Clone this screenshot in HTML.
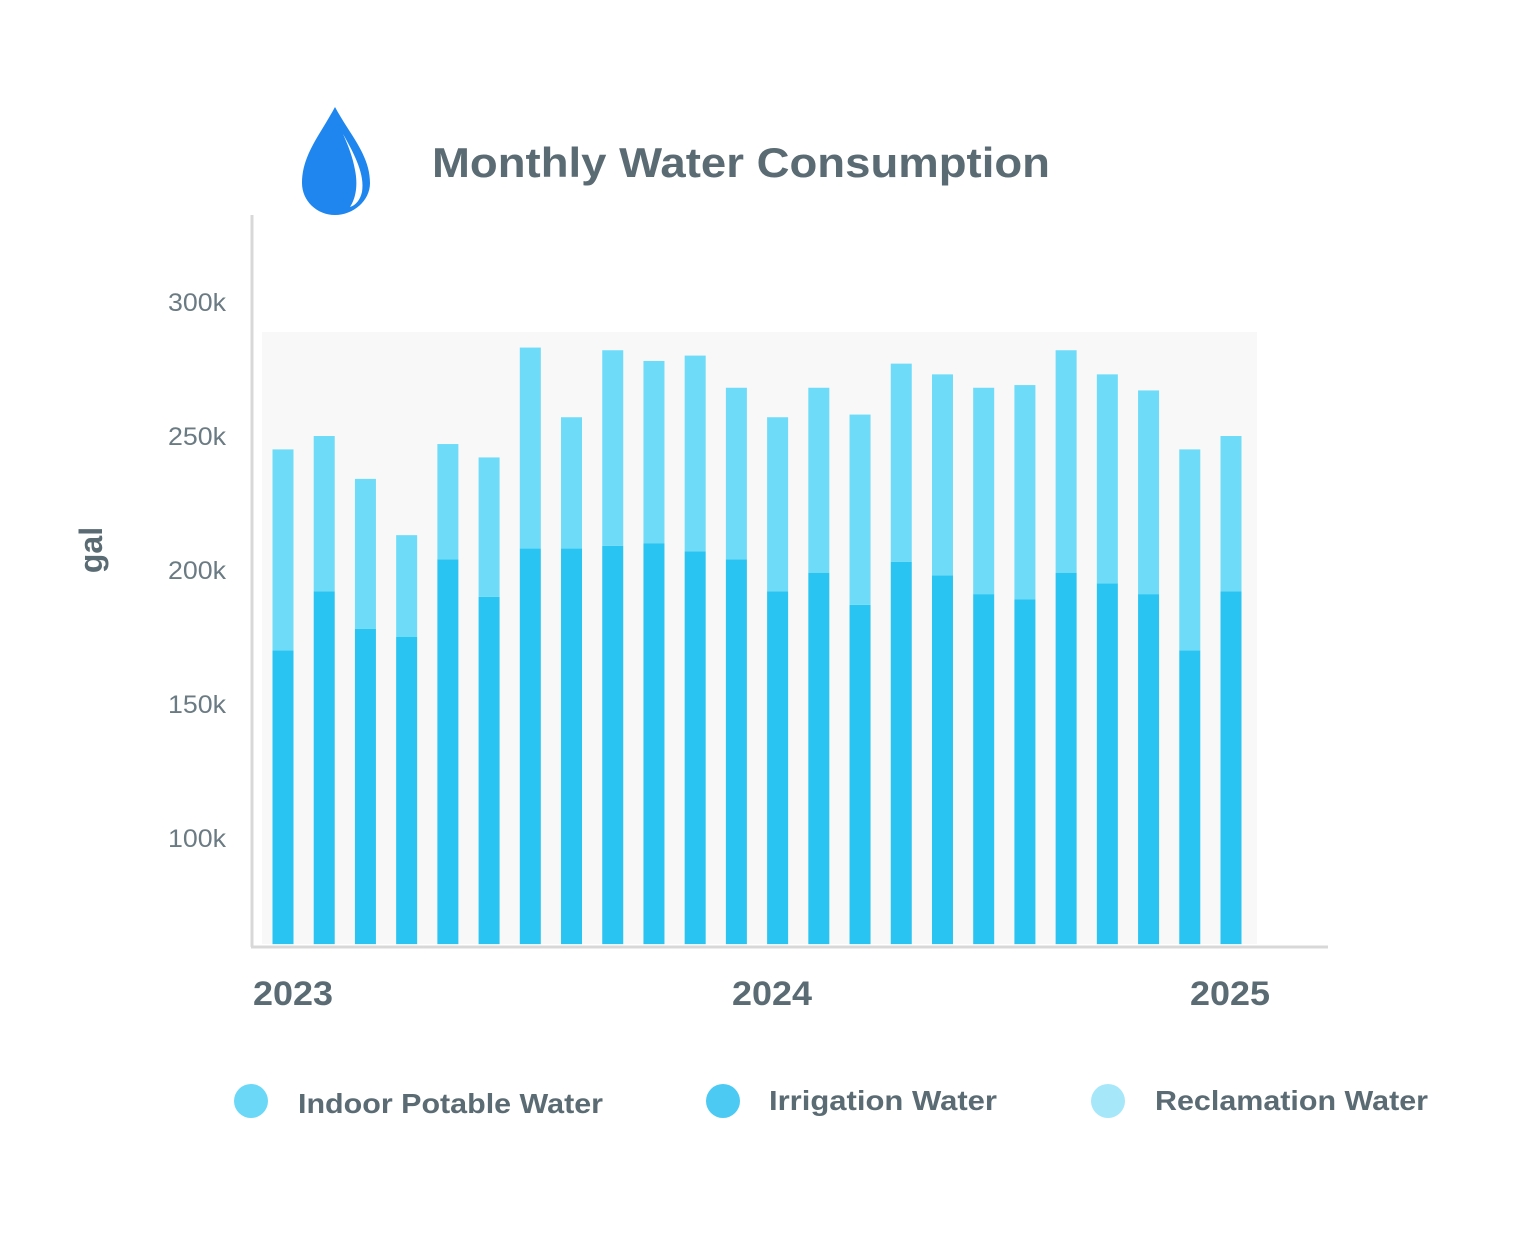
<!DOCTYPE html>
<html><head><meta charset="utf-8"><style>
body{margin:0;background:#fff;}
svg{display:block;font-family:"Liberation Sans",sans-serif;}
</style></head><body>
<svg id="chart" width="1521" height="1260" viewBox="0 0 1521 1260">
<g>
<path d="M335 107 C320 135 302 155 302 183 C302 201 317 215 335 215 C353 215 370 201 370 183 C370 155 350 135 335 107 Z" fill="#1e86ee"/>
<path d="M343 134 C355 155 365 175 362 192 C360 200 356 205 350 207 C356 198 358 185 355 170 C353 158 348 145 343 134 Z" fill="#fff"/>
</g>
<text x="432" y="177" font-size="42" font-weight="bold" fill="#5a6b73" textLength="618" lengthAdjust="spacingAndGlyphs">Monthly Water Consumption</text>
<rect x="262" y="332" width="995" height="612" fill="#f8f8f8"/>
<g id="bars"></g>
<g id="yticks"></g>
<line x1="252" y1="215" x2="252" y2="947" stroke="#d8d8d8" stroke-width="3"/>
<line x1="251" y1="947" x2="1328" y2="947" stroke="#d8d8d8" stroke-width="3"/>
<text transform="translate(102,550) rotate(-90)" text-anchor="middle" font-size="32" font-weight="bold" fill="#5a6b73">gal</text>
<g id="xlabels"></g>
<g>
<g><circle cx="251" cy="1101" r="17" fill="#6bd8f8"/><text x="298" y="1113" font-size="28" font-weight="bold" fill="#5a6b73" textLength="305" lengthAdjust="spacingAndGlyphs">Indoor Potable Water</text></g>
<g><circle cx="723" cy="1101" r="17" fill="#4ccaf3"/><text x="769" y="1110" font-size="28" font-weight="bold" fill="#5a6b73" textLength="228" lengthAdjust="spacingAndGlyphs">Irrigation Water</text></g>
<g><circle cx="1108" cy="1101" r="17" fill="#a6e7fa"/><text x="1155" y="1110" font-size="28" font-weight="bold" fill="#5a6b73" textLength="273" lengthAdjust="spacingAndGlyphs">Reclamation Water</text></g>
</g>
</svg>
<script>
const irrigation=[170,192,178,175,204,190,208,208,209,210,207,204,192,199,187,203,198,191,189,199,195,191,170,192];
const reclamation=[75,58,56,38,43,52,75,49,73,68,73,64,65,69,71,74,75,77,80,83,78,76,75,58];
const yTicks=[100,150,200,250,300];
const yTickLabels=["100k","150k","200k","250k","300k"];
const yearLabels=["2023","2024","2025"];
const yearX=[253,732,1190];
const NS="http://www.w3.org/2000/svg";
const yMin=60.4;
function y(v){return 838-(v-100)*2.68;}
function xc(i){return 283+i*(1231-283)/(irrigation.length-1);}
const bars=document.getElementById('bars');
const bw=21;
irrigation.forEach((v,i)=>{
  const r=document.createElementNS(NS,'rect');
  r.setAttribute('x',xc(i)-bw/2);r.setAttribute('width',bw);
  r.setAttribute('y',y(v));r.setAttribute('height',y(yMin)-y(v));
  r.setAttribute('fill','#29c4f2');
  
  
  bars.appendChild(r);
  const t=document.createElementNS(NS,'rect');
  const top=v+reclamation[i];
  t.setAttribute('x',xc(i)-bw/2);t.setAttribute('width',bw);
  t.setAttribute('y',y(top));t.setAttribute('height',y(v)-y(top));
  t.setAttribute('fill','#6edbf9');
  
  
  bars.appendChild(t);
});
const yt=document.getElementById('yticks');
yTicks.forEach((v,i)=>{
  const t=document.createElementNS(NS,'text');
  t.setAttribute('x',226);t.setAttribute('y',y(v)+9);
  t.setAttribute('text-anchor','end');t.setAttribute('font-size','25');t.setAttribute('fill','#6b7b83');
  t.setAttribute('textLength','58');t.setAttribute('lengthAdjust','spacingAndGlyphs');
  t.textContent=yTickLabels[i];
  
  
  yt.appendChild(t);
});
const xl=document.getElementById('xlabels');
yearLabels.forEach((s,i)=>{
  const t=document.createElementNS(NS,'text');
  t.setAttribute('x',yearX[i]);t.setAttribute('y',1005);
  t.setAttribute('font-size','34');t.setAttribute('font-weight','bold');t.setAttribute('fill','#5a6b73');
  t.setAttribute('textLength','80');t.setAttribute('lengthAdjust','spacingAndGlyphs');
  t.textContent=s;
  
  
  xl.appendChild(t);
});
</script>
</body></html>
